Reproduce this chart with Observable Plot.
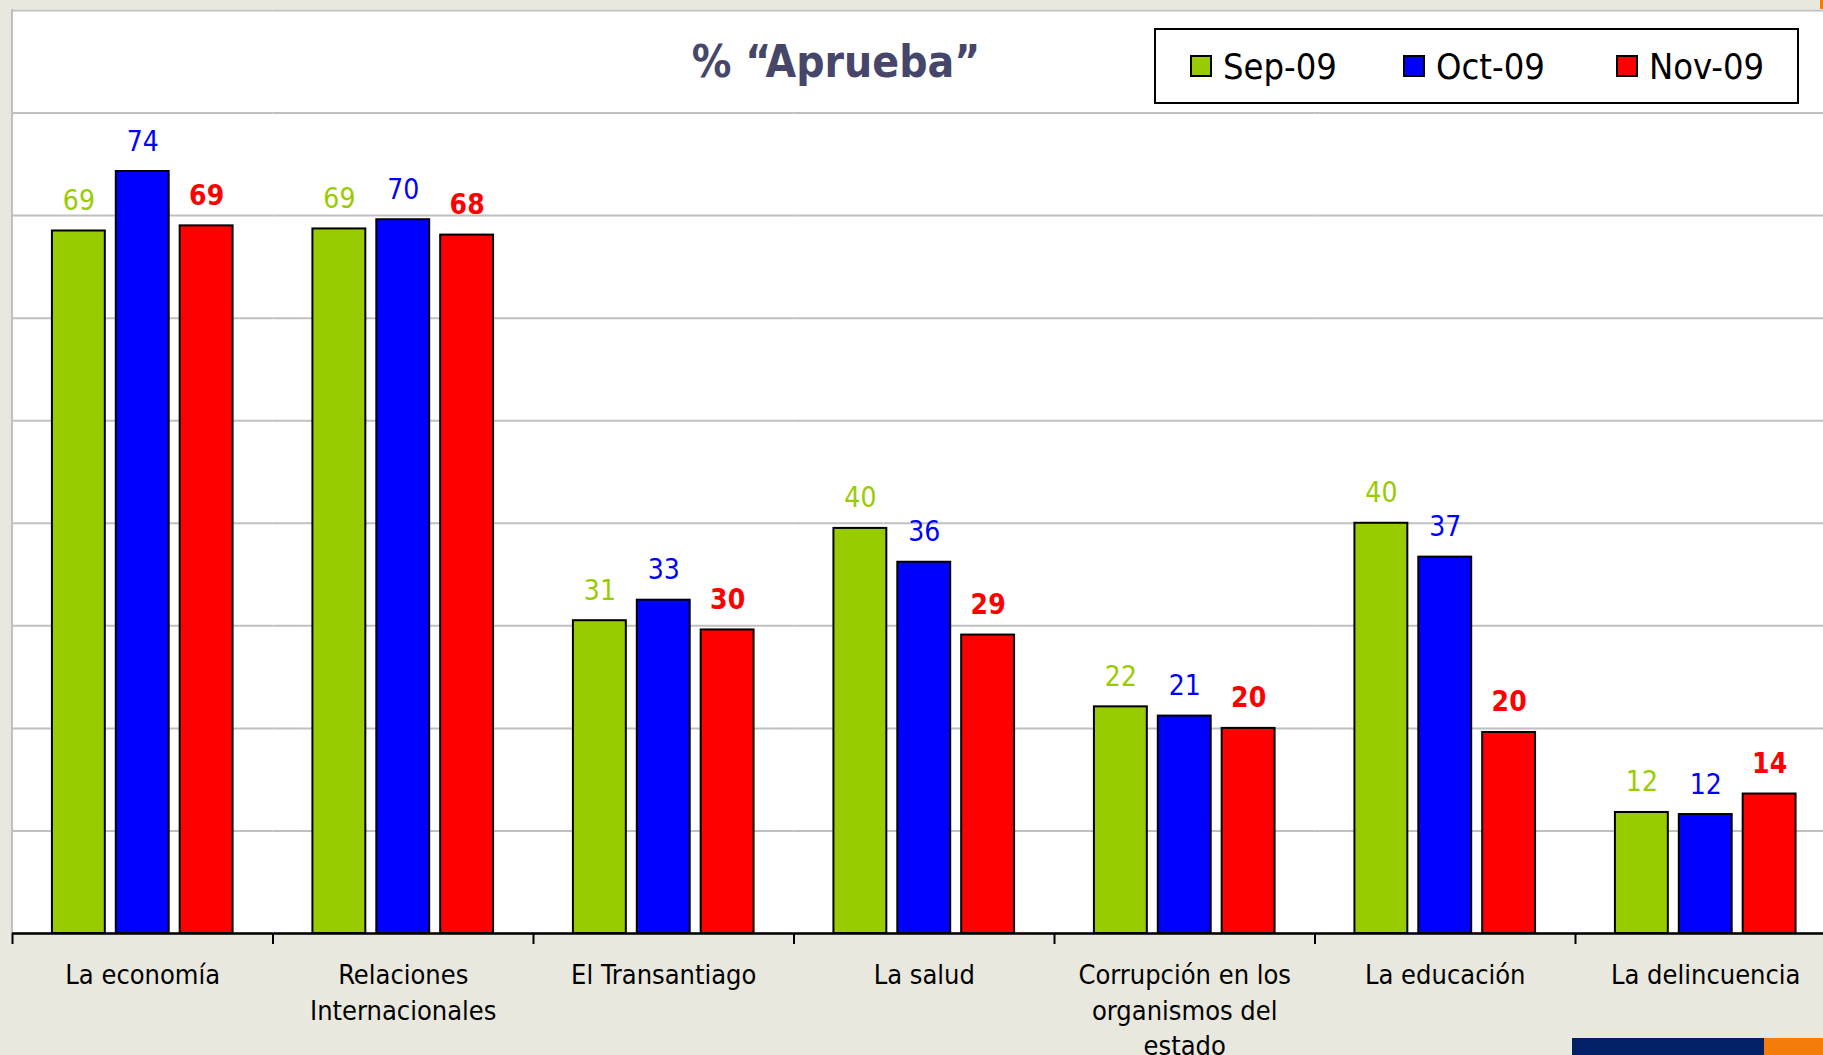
<!DOCTYPE html>
<html>
<head>
<meta charset="utf-8">
<script src="https://cdn.jsdelivr.net/npm/d3@7"></script>
<script src="https://cdn.jsdelivr.net/npm/@observablehq/plot@0.6"></script>
<style>
html, body { margin: 0; padding: 0; background: #e8e8de; overflow: hidden; }
#wrap { position: relative; width: 1823px; height: 1055px; overflow: hidden;
  font-family: "DejaVu Sans Condensed", "DejaVu Sans", sans-serif; }
#plotbg { position: absolute; left: 11px; top: 9px; width: 1840px; height: 924px;
  background: #fff; border-left: 2px solid #c0c0c0; box-sizing: border-box; }
#chart { position: absolute; left: 0; top: 0; }
#title { position: absolute; left: 836px; top: 40px; transform: translateX(-50%);
  font-weight: bold; font-size: 44px; line-height: 44px; color: #46466b; white-space: nowrap; }
#legend { position: absolute; left: 1154px; top: 28px; width: 645px; height: 76px;
  border: 2.5px solid #000; box-sizing: border-box; background: #fff;
  display: flex; align-items: center; padding-left: 34px; }
.item { display: flex; align-items: center; flex: 0 0 auto; width: 213px; }
.item:last-child { width: auto; }
.sw { width: 22px; height: 22px; border: 2px solid #000; box-sizing: border-box; margin-right: 11px; flex: 0 0 auto; }
.lab { font-size: 36px; color: #000; white-space: nowrap; }
.deco { position: absolute; }
</style>
</head>
<body>
<div id="wrap">
  <div id="plotbg"></div>
  <div id="chart"></div>
  <div id="title"></div>
  <div id="legend"></div>
  <div class="deco" style="left:1572px;top:1038px;width:192px;height:17px;background:#032066"></div>
  <div class="deco" style="left:1764px;top:1038px;width:59px;height:17px;background:#f47c0a"></div>
  <div class="deco" style="left:1820px;top:0;width:3px;height:9px;background:#f47c0a"></div>
</div>
<script>
const title = "% “Aprueba”";
const categories = [
  "La economía",
  "Relaciones\nInternacionales",
  "El Transantiago",
  "La salud",
  "Corrupción en los\norganismos del\nestado",
  "La educación",
  "La delincuencia"
];
const series = ["Sep-09", "Oct-09", "Nov-09"];
const colors = ["#99cc00", "#0000ff", "#ff0000"];
const sep09 = [68.5, 68.7, 30.5, 39.5, 22.1, 40.0, 11.8];
const oct09 = [74.3, 69.6, 32.5, 36.2, 21.2, 36.7, 11.6];
const nov09 = [69.0, 68.1, 29.6, 29.1, 20.0, 19.6, 13.6];

const seriesValues = [sep09, oct09, nov09];
const rows = categories.flatMap((c, i) =>
  series.map((s, j) => ({category: c, series: s, value: seriesValues[j][i]}))
);

document.getElementById("title").textContent = title;

const legend = document.getElementById("legend");
series.forEach((s, j) => {
  const item = document.createElement("div");
  item.className = "item";
  const sw = document.createElement("div");
  sw.className = "sw";
  sw.style.background = colors[j];
  const lab = document.createElement("span");
  lab.className = "lab";
  lab.textContent = s;
  item.append(sw, lab);
  legend.append(item);
});

const fontFamily = '"DejaVu Sans Condensed", "DejaVu Sans", sans-serif';
const labelOpts = {
  fx: "category", x: "series", y: "value",
  text: d => Math.round(d.value),
  fill: "series", dy: -21, lineAnchor: "bottom", fontSize: 28
};

const chart = Plot.plot({
  width: 1836.5,
  height: 1055,
  marginLeft: 12,
  marginRight: 1,
  marginTop: 10,
  marginBottom: 122,
  style: {background: "transparent", maxWidth: "none", fontFamily, fontSize: "27px", color: "#000", overflow: "visible"},
  fx: {domain: categories, padding: 0, round: false, label: null},
  x: {domain: series, paddingInner: 0.172, paddingOuter: 0.625, round: false, axis: null},
  y: {domain: [0, 90], axis: null},
  color: {domain: series, range: colors},
  marks: [
    Plot.gridY({interval: 10, stroke: "#c0c0c0", strokeOpacity: 1, strokeWidth: 2}),
    Plot.barY(rows, {fx: "category", x: "series", y: "value", fill: "series", stroke: "#000", strokeWidth: 2, inset: 0}),
    Plot.ruleY([0], {stroke: "#000", strokeWidth: 2.5}),
    Plot.text(rows.filter(d => d.series !== series[2]), labelOpts),
    Plot.text(rows.filter(d => d.series === series[2]), {...labelOpts, fontWeight: "bold"}),
    Plot.axisFx({anchor: "bottom", tickSize: 0, tickPadding: 26, lineHeight: 1.3, fontSize: 27, label: null}),
    Plot.axisFx({anchor: "bottom", tickSize: 11, dx: -130.25, tickFormat: () => "", strokeWidth: 2, label: null})
  ]
});
document.getElementById("chart").append(chart);
</script>
</body>
</html>
